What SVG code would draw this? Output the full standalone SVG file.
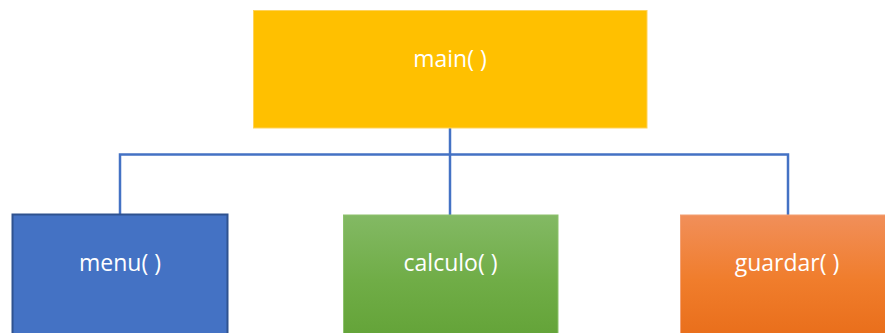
<svg xmlns="http://www.w3.org/2000/svg" width="885" height="333" viewBox="0 0 885 333">
  <defs>
    <linearGradient id="gGreen" x1="0" y1="0" x2="0" y2="1">
      <stop offset="0" stop-color="#83B964"/>
      <stop offset="0.5" stop-color="#70AD47"/>
      <stop offset="1" stop-color="#62A236"/>
    </linearGradient>
    <linearGradient id="gOrange" x1="0" y1="0" x2="0" y2="1">
      <stop offset="0" stop-color="#F18F5A"/>
      <stop offset="0.5" stop-color="#F07D2C"/>
      <stop offset="1" stop-color="#E86C18"/>
    </linearGradient>
    <style>
      .lbl { font-family: "Open Sans", "Liberation Sans", sans-serif; font-size: 23px; fill: #FFFFFF; text-anchor: middle; }
      .link { fill: none; stroke: #4472C4; stroke-width: 2.5; }
    </style>
  </defs>
  <rect width="885" height="333" fill="#FFFFFF"/>

  <g id="connectors">
    <path class="link" d="M450 128 V154.5"/>
    <path class="link" d="M120 214 V154.5 H788 V215"/>
    <path class="link" d="M450 154.5 V215"/>
  </g>

  <g id="main">
    <rect x="253.5" y="10.5" width="393.5" height="117.5" fill="#FFC000" stroke="#FFD35A" stroke-width="1"/>
    <text class="lbl" x="450" y="66.5">main( )</text>
  </g>

  <g id="menu">
    <rect x="12.5" y="214.5" width="215" height="130" fill="#4472C4" stroke="#2F528F" stroke-width="2"/>
    <text class="lbl" x="120" y="271">menu( )</text>
  </g>

  <g id="calculo">
    <rect x="343.5" y="215" width="214.5" height="130" fill="url(#gGreen)" stroke="#8DC26D" stroke-width="1"/>
    <text class="lbl" x="450.5" y="271">calculo( )</text>
  </g>

  <g id="guardar">
    <rect x="680.5" y="215" width="215" height="130" fill="url(#gOrange)" stroke="#F3A072" stroke-width="1"/>
    <text class="lbl" x="787" y="271">guardar( )</text>
  </g>
</svg>
